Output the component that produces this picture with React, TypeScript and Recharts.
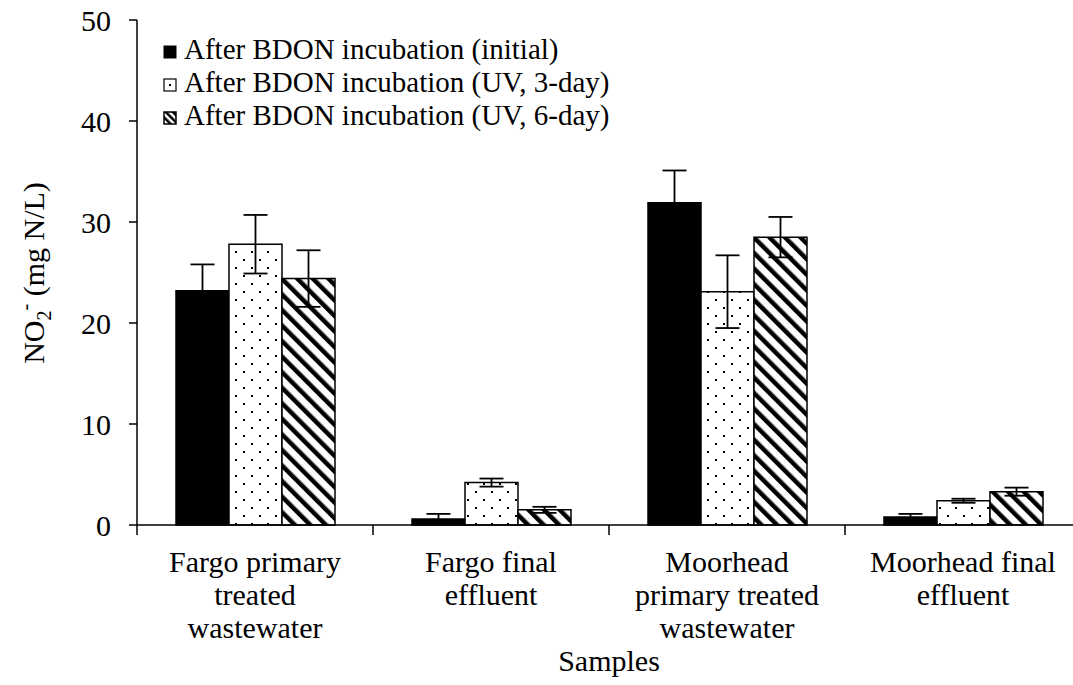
import { BarChart, Bar, XAxis, YAxis, ErrorBar } from 'recharts';

const categories = [
  ['Fargo primary', 'treated', 'wastewater'],
  ['Fargo final', 'effluent'],
  ['Moorhead', 'primary treated', 'wastewater'],
  ['Moorhead final', 'effluent'],
];
const initial = [23.2, 0.6, 31.9, 0.8];
const initialErr = [2.6, 0.5, 3.2, 0.3];
const uv3 = [27.8, 4.2, 23.1, 2.4];
const uv3Err = [2.9, 0.4, 3.6, 0.2];
const uv6 = [24.4, 1.5, 28.5, 3.3];
const uv6Err = [2.8, 0.3, 2.0, 0.4];
const seriesNames = [
  'After BDON incubation (initial)',
  'After BDON incubation (UV, 3-day)',
  'After BDON incubation (UV, 6-day)',
];
const yTicks = [0, 10, 20, 30, 40, 50];

const data = categories.map((c, i) => ({
  name: c.join(' '),
  initial: initial[i],
  initialErr: initialErr[i],
  uv3: uv3[i],
  uv3Err: uv3Err[i],
  uv6: uv6[i],
  uv6Err: uv6Err[i],
}));

const FONT = '"Liberation Serif", "Times New Roman", serif';
const FS = 30;
const BAND = 236;

function Patterns() {
  return (
    <svg width={0} height={0} style={{ position: 'absolute' }}>
      <defs>
        <pattern id="dots" patternUnits="userSpaceOnUse" width={16} height={16}>
          <rect width={16} height={16} fill="#fff" />
          <rect x={3} y={3} width={2} height={2} fill="#000" />
          <rect x={11} y={11} width={2} height={2} fill="#000" />
        </pattern>
        <pattern id="hatch" patternUnits="userSpaceOnUse" width={11} height={11} patternTransform="rotate(-45)">
          <rect width={11} height={11} fill="#fff" />
          <rect x={0} y={0} width={4.5} height={11} fill="#000" />
        </pattern>
        <pattern id="hatchSmall" patternUnits="userSpaceOnUse" width={5} height={5} patternTransform="rotate(-45)">
          <rect width={5} height={5} fill="#fff" />
          <rect x={0} y={0} width={2.5} height={5} fill="#000" />
        </pattern>
      </defs>
    </svg>
  );
}

function CategoryTick(props: any) {
  const { x, y, payload, index } = props;
  const lines = categories[index] || [payload.value];
  const left = x - BAND / 2;
  return (
    <g>
      <line x1={left} y1={y - 8} x2={left} y2={y + 2} stroke="#000" strokeWidth={1.5} />
      {index === categories.length - 1 && (
        <line x1={left + BAND} y1={y - 8} x2={left + BAND} y2={y + 2} stroke="#000" strokeWidth={1.5} />
      )}
      <text x={x} y={y + 39} textAnchor="middle" fontFamily={FONT} fontSize={FS} fill="#000">
        {lines.map((l: string, i: number) => (
          <tspan key={i} x={x} dy={i === 0 ? 0 : 33}>
            {l}
          </tspan>
        ))}
      </text>
    </g>
  );
}

function YLabel() {
  return (
    <text
      x={0}
      y={0}
      transform="translate(44 273) rotate(-90)"
      textAnchor="middle"
      fontFamily={FONT}
      fontSize={FS}
      fill="#000"
    >
      NO
      <tspan fontSize={20} dy={7}>2</tspan>
      <tspan fontSize={20} dy={-19}>-</tspan>
      <tspan dy={12}> (mg N/L)</tspan>
    </text>
  );
}

function LegendBox() {
  const icons = [
    <rect x={1} y={1} width={12} height={12} fill="#000" stroke="#000" />,
    <g>
      <rect x={1} y={1} width={12} height={12} fill="#fff" stroke="#000" strokeWidth={1.2} />
      <rect x={6} y={6} width={2} height={2} fill="#000" />
    </g>,
    <rect x={1} y={1} width={12} height={12} fill="url(#hatchSmall)" stroke="#000" strokeWidth={1.5} />,
  ];
  return (
    <svg width={500} height={150} style={{ position: 'absolute', left: 163, top: 20 }}>
      {seriesNames.map((n, i) => (
        <g key={n} transform={`translate(0 ${25 + i * 33})`}>
          {icons[i]}
          <text x={21} y={14} fontFamily={FONT} fontSize={FS - 1} fill="#000">
            {n}
          </text>
        </g>
      ))}
    </svg>
  );
}

export default function App() {
  return (
    <div style={{ position: 'absolute', left: 0, top: 0, width: 1073, height: 685, overflow: 'hidden', background: '#fff' }}>
      <Patterns />
      <BarChart
        width={1100}
        height={685}
        data={data}
        margin={{ top: 20, right: 19, bottom: 0, left: 0 }}
        barCategoryGap={39}
        barGap={0}
      >
        <XAxis
          dataKey="name"
          tick={<CategoryTick />}
          tickLine={false}
          interval={0}
          height={160}
          axisLine={{ stroke: '#000', strokeWidth: 1.5 }}
          label={{ value: 'Samples', position: 'insideBottom', offset: 14, fontFamily: FONT, fontSize: FS, fill: '#000' }}
        />
        <YAxis
          width={137}
          domain={[0, 50]}
          ticks={yTicks}
          interval={0}
          tickSize={8}
          tickMargin={18}
          axisLine={{ stroke: '#000', strokeWidth: 1.5 }}
          tickLine={{ stroke: '#000', strokeWidth: 1.5 }}
          tick={{ fontFamily: FONT, fontSize: FS, fill: '#000' }}
          label={<YLabel />}
        />
        <Bar dataKey="initial" fill="#000" stroke="#000" strokeWidth={1.5} isAnimationActive={false}>
          <ErrorBar dataKey="initialErr" width={12} stroke="#000" strokeWidth={1.8} />
        </Bar>
        <Bar dataKey="uv3" fill="url(#dots)" stroke="#000" strokeWidth={1.5} isAnimationActive={false}>
          <ErrorBar dataKey="uv3Err" width={12} stroke="#000" strokeWidth={1.8} />
        </Bar>
        <Bar dataKey="uv6" fill="url(#hatch)" stroke="#000" strokeWidth={1.5} isAnimationActive={false}>
          <ErrorBar dataKey="uv6Err" width={12} stroke="#000" strokeWidth={1.8} />
        </Bar>
      </BarChart>
      <LegendBox />
    </div>
  );
}
